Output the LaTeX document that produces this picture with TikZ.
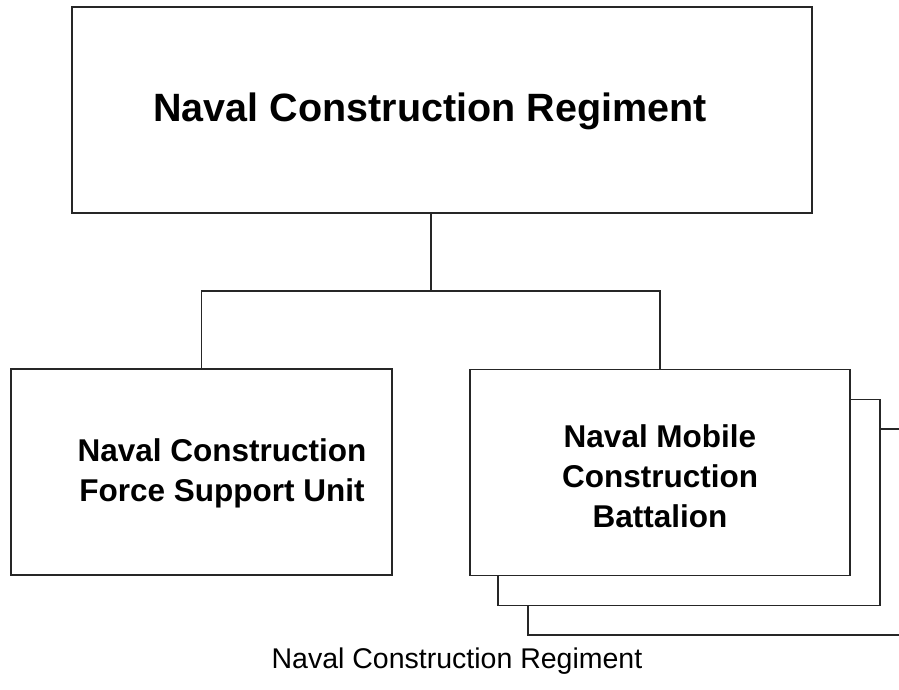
\documentclass[tikz,border=0pt]{standalone}
\usepackage{fontspec}
\setmainfont{Liberation Sans}
\usepackage{tikz}
\usetikzlibrary{positioning,calc}
\tikzset{
  unitbox/.style={draw=black!85, line width=1.4pt, fill=white, minimum width=#1, minimum height=206pt, inner sep=0pt},
  unitbox/.default=381pt,
  regtitle/.style={font=\fontsize{39.5}{46}\selectfont\bfseries},
  unitlabel/.style={font=\fontsize{31.5}{40}\selectfont\bfseries, align=center},
  figcap/.style={font=\fontsize{28.5}{34}\selectfont},
  link/.style={draw=black!85, line width=1.4pt}}

\begin{document}
\begin{tikzpicture}[x=1pt,y=-1pt]
  \clip (0,0) rectangle (899,689);
  \useasboundingbox (0,0) rectangle (899,689);
  % regiment at the top
  \node[unitbox=740pt] (ncr) at (442,110) {};
  \node[regtitle] (ncrtext) at (430,111) {Naval Construction Regiment};
  % support unit
  \node[unitbox] (fsu) at (201.5,472) {};
  \node[unitlabel] (fsutext) at (222,473) {Naval Construction\\Force Support Unit};
  % battalions, stacked
  \node[unitbox=382pt] (nmcb3) at (719,532) {};
  \node[unitbox=382pt] (nmcb2) at (689,502.5) {};
  \node[unitbox=380pt] (nmcb) at (660,472.5) {};
  \node[unitlabel] (nmcbtext) at (660,476) {Naval Mobile\\Construction\\Battalion};
  % connectors
  \coordinate (hub) at (431,291);
  \draw[link] (hub |- ncr.south) -- (hub);
  \draw[link] (fsu.north) -- (fsu.north |- hub) -- (nmcb.north |- hub) -- (nmcb.north);
  \node[figcap] (cap) at (457,661) {Naval Construction Regiment};
\end{tikzpicture}
\end{document}
